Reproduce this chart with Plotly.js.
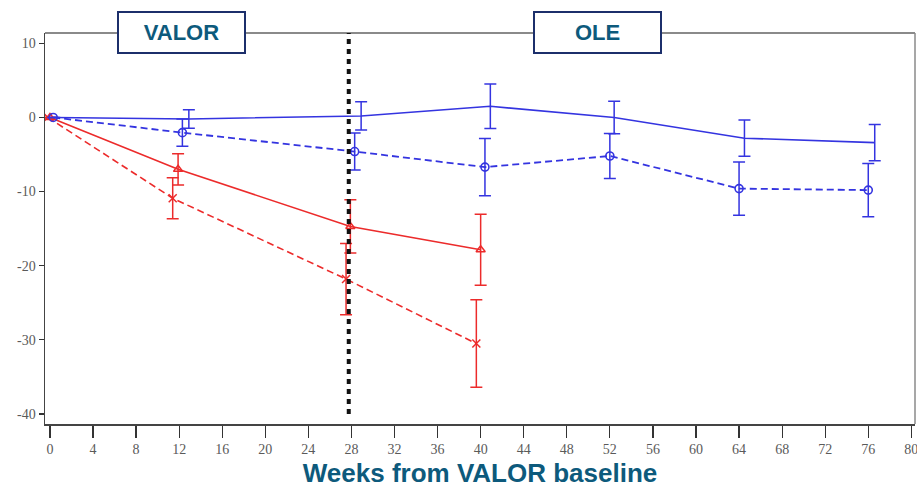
<!DOCTYPE html>
<html>
<head>
<meta charset="utf-8">
<script src="https://cdn.plot.ly/plotly-3.0.1.min.js"></script>
<style>
  html, body { margin: 0; padding: 0; background: #fff; }
  #chart { width: 917px; height: 489px; }
</style>
</head>
<body>
<div id="chart"></div>
<script>
// Change from VALOR baseline by week, four groups (mean ± error)
const redDashWeeks   = [-0.2, 11.4, 27.5, 39.6];
const redDashValues  = [0, -10.9, -21.8, -30.5];
const redDashErr     = [0, 2.75, 4.8, 5.9];

const redSolidWeeks  = [0, 11.9, 27.9, 40.0];
const redSolidValues = [0, -7.0, -14.7, -17.85];
const redSolidErr    = [0, 2.1, 3.6, 4.8];

const blueDashWeeks  = [0.3, 12.3, 28.3, 40.4, 52.0, 64.0, 76.0];
const blueDashValues = [0, -2.05, -4.6, -6.7, -5.2, -9.6, -9.8];
const blueDashErr    = [0, 1.85, 2.5, 3.85, 3.05, 3.6, 3.6];

const blueSolidWeeks  = [0.4, 12.9, 28.9, 40.9, 52.4, 64.5, 76.6];
const blueSolidValues = [0, -0.2, 0.2, 1.5, 0.0, -2.8, -3.4];
const blueSolidErr    = [0, 1.25, 1.9, 3.0, 2.2, 2.45, 2.45];

const xTickVals = [0, 4, 8, 12, 16, 20, 24, 28, 32, 36, 40, 44, 48, 52, 56, 60, 64, 68, 72, 76, 80];
const yTickVals = [10, 0, -10, -20, -30, -40];
const yTickText = ['10', '0', '-10', '-20', '-30', '-40'];

const phaseBoundary = 27.75;
const phaseLabels = ['VALOR', 'OLE'];

const RED = '#ec2b2b';
const BLUE = '#3434e0';

function errBars(arr, color) {
  return { type: 'data', array: arr, visible: true, color: color, thickness: 1.5, width: 6 };
}

const traces = [
  {
    x: redDashWeeks, y: redDashValues, mode: 'lines+markers', type: 'scatter',
    line: { color: RED, width: 1.6, dash: '7px,4px' },
    marker: { symbol: 'x-thin', size: 8, color: RED, line: { color: RED, width: 1.5 } },
    error_y: errBars(redDashErr, RED)
  },
  {
    x: redSolidWeeks, y: redSolidValues, mode: 'lines+markers', type: 'scatter',
    line: { color: RED, width: 1.6 },
    marker: { symbol: 'triangle-up-open', size: 8, color: RED, line: { color: RED, width: 1.5 } },
    error_y: errBars(redSolidErr, RED)
  },
  {
    x: blueDashWeeks, y: blueDashValues, mode: 'lines+markers', type: 'scatter',
    line: { color: BLUE, width: 1.8, dash: '7px,4px' },
    marker: { symbol: 'circle-open', size: 8, color: BLUE, line: { color: BLUE, width: 1.6 } },
    error_y: errBars(blueDashErr, BLUE)
  },
  {
    x: blueSolidWeeks, y: blueSolidValues, mode: 'lines', type: 'scatter',
    line: { color: BLUE, width: 1.6 },
    error_y: errBars(blueSolidErr, BLUE)
  }
];

const tickFont = { family: 'Liberation Serif, DejaVu Serif, serif', size: 14, color: '#5a5a5a' };
const boxFont = { family: 'Liberation Sans, Arial, sans-serif', size: 22, color: '#0d5a7c', weight: 'bold' };

const layout = {
  width: 917, height: 489,
  margin: { l: 45, r: 2, t: 33, b: 65 },
  paper_bgcolor: '#fff', plot_bgcolor: '#fff',
  showlegend: false,
  xaxis: {
    range: [-0.46, 80.34],
    tickvals: xTickVals,
    ticks: 'outside', ticklen: 12, tickwidth: 1.2, tickcolor: '#333',
    ticklabeloverflow: 'allow',
    showgrid: false, zeroline: false,
    showline: true, linecolor: '#444', linewidth: 1.5,
    tickfont: tickFont,
    title: {
      text: '<b>Weeks from VALOR baseline</b>',
      font: { family: 'Liberation Sans, Arial, sans-serif', size: 26, color: '#0d5a7c' },
      standoff: 7
    }
  },
  yaxis: {
    range: [-41.35, 11.39],
    tickvals: yTickVals, ticktext: yTickText,
    ticks: 'outside', ticklen: 5, tickwidth: 1.2, tickcolor: '#333',
    showgrid: false, zeroline: false,
    showline: true, linecolor: '#444', linewidth: 1.5,
    tickfont: tickFont
  },
  shapes: [
    // top and right frame
    { type: 'line', xref: 'paper', yref: 'paper', x0: 0, x1: 1, y0: 1, y1: 1,
      line: { color: '#8a8a8a', width: 2 } },
    { type: 'line', xref: 'paper', yref: 'paper', x0: 1, x1: 1, y0: 0, y1: 1,
      line: { color: '#8a8a8a', width: 1.5 } },
    // boundary between VALOR and OLE phases
    { type: 'line', xref: 'x', yref: 'y', x0: phaseBoundary, x1: phaseBoundary, y0: -40, y1: 11.39,
      line: { color: '#111', width: 4, dash: '5px,5px' } }
  ],
  annotations: [
    { text: '<b>' + phaseLabels[0] + '</b>', xref: 'paper', yref: 'paper', x: 0.157, y: 1.001,
      xanchor: 'center', yanchor: 'middle', showarrow: false,
      width: 125, height: 39, borderpad: 0, borderwidth: 2, bordercolor: '#1c2f6b', bgcolor: '#fff',
      font: boxFont },
    { text: '<b>' + phaseLabels[1] + '</b>', xref: 'paper', yref: 'paper', x: 0.6345, y: 1.001,
      xanchor: 'center', yanchor: 'middle', showarrow: false,
      width: 125, height: 39, borderpad: 0, borderwidth: 2, bordercolor: '#1c2f6b', bgcolor: '#fff',
      font: boxFont }
  ]
};

Plotly.newPlot('chart', traces, layout, { displayModeBar: false, staticPlot: true });
</script>
</body>
</html>
